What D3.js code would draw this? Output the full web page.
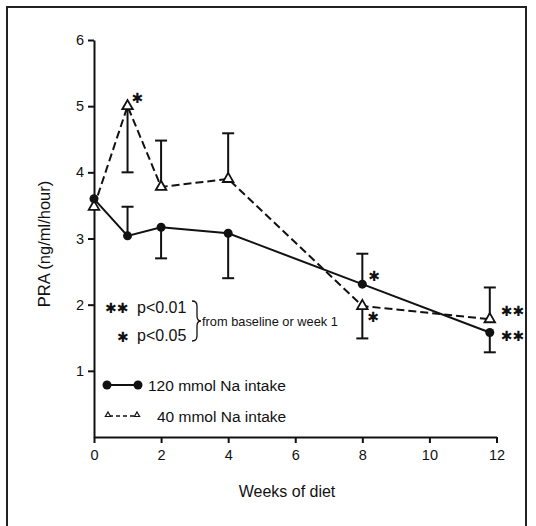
<!DOCTYPE html>
<html>
<head>
<meta charset="utf-8">
<script src="https://cdn.jsdelivr.net/npm/d3@7"></script>
<style>
  body { margin: 0; background: #fff; }
  text { font-family: "Liberation Sans", Arial, sans-serif; fill: #111; }
</style>
</head>
<body>
<div id="chart"></div>
<script>
// weeks of diet and mean PRA (ng/ml/hour) per group
var weeks = [0, 1, 2, 4, 8, 11.8];
var pra120 = [3.6, 3.04, 3.17, 3.08, 2.31, 1.58];
var pra40 = [3.48, 5.0, 3.78, 3.9, 1.98, 1.78];
// end of the one-sided error bar (null = none)
var bar120 = [null, 3.48, 2.70, 2.40, 2.77, 1.28];
var bar40 = [null, 4.0, 4.48, 4.59, 1.49, 2.26];
// significance marks
var sig120 = ["", "", "", "", "*", "**"];
var sig40 = ["", "*", "", "", "*", "**"];
var xTicks = [0, 2, 4, 6, 8, 10, 12];
var yTicks = [1, 2, 3, 4, 5, 6];

var width = 536, height = 526;
var svg = d3.select('#chart').append('svg')
    .attr('width', width).attr('height', height);

// scanned page frame
svg.append('path')
    .attr('d', 'M7,526V7H526V526')
    .attr('fill', 'none')
    .attr('stroke', '#222')
    .attr('stroke-width', 2);

var x = d3.scaleLinear().domain([0, 12]).range([94, 496.5]);
var y = d3.scaleLinear().domain([0, 6]).range([437, 40]);

var yAxis = svg.append('g')
    .attr('transform', 'translate(' + x(0) + ',0)')
    .call(d3.axisLeft(y).tickValues(yTicks).tickFormat(d3.format('d'))
        .tickSize(6).tickSizeOuter(0).tickPadding(4));
var xAxis = svg.append('g')
    .attr('transform', 'translate(0,' + y(0) + ')')
    .call(d3.axisBottom(x).tickValues(xTicks).tickFormat(d3.format('d'))
        .tickSize(6).tickSizeOuter(0).tickPadding(7));
[xAxis, yAxis].forEach(function (g) {
    g.selectAll('path, line').attr('stroke', '#111').attr('stroke-width', 2);
    g.selectAll('text').style('font-size', '14.5px').attr('fill', '#111');
});

svg.append('text')
    .attr('transform', 'translate(50,244) rotate(-90)')
    .attr('text-anchor', 'middle')
    .style('font-size', '16.5px')
    .text('PRA (ng/ml/hour)');
svg.append('text')
    .attr('x', 287).attr('y', 497)
    .attr('text-anchor', 'middle')
    .style('font-size', '16px')
    .text('Weeks of diet');

function rows(vals, bars, sigs) {
    return weeks.map(function (w, i) {
        return { w: w, v: vals[i], b: bars[i], s: sigs[i] };
    });
}
var d120 = rows(pra120, bar120, sig120);
var d40 = rows(pra40, bar40, sig40);

// error bars
function drawBars(data) {
    var g = svg.append('g').attr('stroke', '#111').attr('stroke-width', 2);
    data.filter(function (d) { return d.b != null; }).forEach(function (d) {
        g.append('line')
            .attr('x1', x(d.w)).attr('x2', x(d.w))
            .attr('y1', y(d.v)).attr('y2', y(d.b));
        g.append('line')
            .attr('x1', x(d.w) - 6).attr('x2', x(d.w) + 6)
            .attr('y1', y(d.b)).attr('y2', y(d.b));
    });
}
drawBars(d120);
drawBars(d40);

var line = d3.line().x(function (d) { return x(d.w); }).y(function (d) { return y(d.v); });

svg.append('path').datum(d40)
    .attr('d', line)
    .attr('fill', 'none').attr('stroke', '#111')
    .attr('stroke-width', 2).attr('stroke-dasharray', '8,4');
svg.append('path').datum(d120)
    .attr('d', line)
    .attr('fill', 'none').attr('stroke', '#111')
    .attr('stroke-width', 2);

var tri = d3.symbol().type(d3.symbolTriangle).size(48);
svg.append('g').selectAll('path').data(d40).enter()
    .append('path')
    .attr('d', tri)
    .attr('transform', function (d) { return 'translate(' + x(d.w) + ',' + y(d.v) + ')'; })
    .attr('fill', '#fff').attr('stroke', '#111').attr('stroke-width', 1.8);
svg.append('g').selectAll('circle').data(d120).enter()
    .append('circle')
    .attr('cx', function (d) { return x(d.w); })
    .attr('cy', function (d) { return y(d.v); })
    .attr('r', 4.5).attr('fill', '#111');

// star placement next to each point
var starOff120 = [null, null, null, null, [6, -3], [11, 9]];
var starOff40 = [null, [4, -3], null, null, [5, 16], [11, -3]];
function drawStars(data, offs) {
    data.forEach(function (d, i) {
        if (!d.s) return;
        svg.append('text')
            .attr('x', x(d.w) + offs[i][0])
            .attr('y', y(d.v) + offs[i][1])
            .style('font-size', '14px')
            .style('font-family', '"DejaVu Sans", sans-serif')
            .style('font-weight', 'bold')
            .text(d.s.replace(/\*/g, '\u2731'));
    });
}
drawStars(d120, starOff120);
drawStars(d40, starOff40);

// significance key
var key = svg.append('g');
key.append('text').attr('x', 105).attr('y', 312.5)
    .style('font-size', '14px').style('font-family', '"DejaVu Sans", sans-serif').style('font-weight', 'bold')
    .text('\u2731\u2731');
key.append('text').attr('x', 117).attr('y', 341.5)
    .style('font-size', '14px').style('font-family', '"DejaVu Sans", sans-serif').style('font-weight', 'bold')
    .text('\u2731');
key.append('text').attr('x', 137).attr('y', 313).style('font-size', '16px').text('p<0.01');
key.append('text').attr('x', 137).attr('y', 341).style('font-size', '16px').text('p<0.05');
key.append('path')
    .attr('d', 'M192,301 Q197,301 197,306 V316 Q197,321 201,321 Q197,321 197,326 V336 Q197,341 192,341')
    .attr('fill', 'none').attr('stroke', '#111').attr('stroke-width', 1.3);
key.append('text').attr('x', 202).attr('y', 325.5).style('font-size', '12.8px').text('from baseline or week 1');

// series legend
var leg = svg.append('g');
leg.append('line').attr('x1', 107).attr('x2', 138).attr('y1', 385).attr('y2', 385)
    .attr('stroke', '#111').attr('stroke-width', 2);
leg.selectAll('circle').data([107, 138]).enter().append('circle')
    .attr('cx', function (d) { return d; }).attr('cy', 385).attr('r', 4.5).attr('fill', '#111');
leg.append('text').attr('x', 148).attr('y', 391).style('font-size', '15.5px').text('120 mmol Na intake');
leg.append('line').attr('x1', 109).attr('x2', 136).attr('y1', 416).attr('y2', 416)
    .attr('stroke', '#111').attr('stroke-width', 1.3).attr('stroke-dasharray', '4,3');
var smallTri = d3.symbol().type(d3.symbolTriangle).size(12);
leg.selectAll('path.t').data([108, 137]).enter().append('path')
    .attr('class', 't')
    .attr('d', smallTri)
    .attr('transform', function (d) { return 'translate(' + d + ',415)'; })
    .attr('fill', '#fff').attr('stroke', '#111').attr('stroke-width', 1.2);
leg.append('text').attr('x', 157).attr('y', 422).style('font-size', '15.5px').text('40 mmol Na intake');
</script>
</body>
</html>
